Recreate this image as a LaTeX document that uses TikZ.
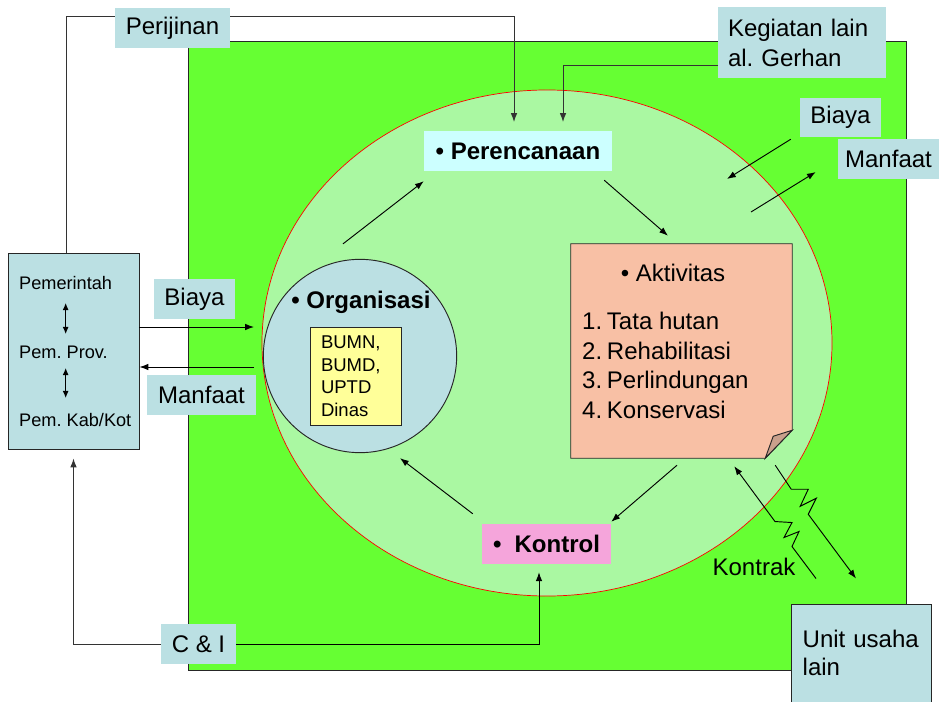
\documentclass[tikz,border=0pt]{standalone}
\usepackage{fontspec}
\setmainfont{Liberation Sans}
\usetikzlibrary{arrows.meta, positioning, calc, backgrounds}
\definecolor{landgreen}{HTML}{66FF33}
\definecolor{fieldgreen}{HTML}{AAF8A2}
\definecolor{tagblue}{HTML}{BBE0E3}
\definecolor{planfill}{HTML}{CCFFFF}
\definecolor{ctrlfill}{HTML}{F5A5DB}
\definecolor{actfill}{HTML}{F8C0A5}
\definecolor{foldfill}{HTML}{C9A08C}
\definecolor{unitfill}{HTML}{FFFF99}
\newcommand{\bigtxt}{\fontsize{20.5}{24.6}\selectfont}
\newcommand{\smalltxt}{\fontsize{15.5}{19.2}\selectfont}
\frenchspacing

\begin{document}
\begin{tikzpicture}[
    x=0.03cm, y=-0.03cm,
    tagbox/.style={fill=tagblue, inner sep=0pt, minimum height=1.2cm, font=\bigtxt},
    stage/.style={inner sep=0pt, minimum height=1.2cm, font=\bigtxt\bfseries},
    frame/.style={draw=black!85, line width=0.8pt},
    arrow/.style={-{Latex[length=7.5pt,width=5.5pt]}, line width=0.8pt},
    twoway/.style={{Latex[length=6pt,width=5pt]}-{Latex[length=6pt,width=5pt]}, line width=0.8pt},
    link/.style={draw=black!80}
]
    \useasboundingbox (0,0) rectangle (939,702);

    % government side
    \node[frame, fill=tagblue, minimum width=3.93cm, minimum height=5.88cm] (gov) at (73.5,351) {};
    \node[font=\smalltxt, anchor=west, inner sep=0pt] (govA) at (19,283) {Pemerintah};
    \node[font=\smalltxt, anchor=west, inner sep=0pt] (govB) at (19,352) {Pem. Prov.};
    \node[font=\smalltxt, anchor=west, inner sep=0pt] (govC) at (19,420) {Pem. Kab/Kot};
    \draw[twoway] (govA) ++(0,20) -- ++(0,31);
    \draw[twoway] (govA |- govB) ++(0,16) -- ++(0,30);

    % labels
    \node[tagbox, minimum width=3.45cm] (permit) at (172.5,28) {Perijinan};
    \node[tagbox, minimum width=5.04cm, minimum height=2.1cm, text width=4.44cm, align=left,
          font=\fontsize{20.5}{25.6}\selectfont] (other) at (802,42.5) {Kegiatan lain\\al. Gerhan};
    \node[tagbox, minimum width=2.43cm] (costL) at (194.5,299) {Biaya};
    \node[tagbox, minimum width=3.27cm] (gainL) at (201.5,395) {Manfaat};
    \node[tagbox, minimum width=2.43cm, minimum height=1.17cm] (costR) at (840.5,117.5) {Biaya};
    \node[tagbox, minimum width=3.03cm] (gainR) at (888.5,159) {Manfaat};
    \node[tagbox, minimum width=2.25cm] (ci) at (198.5,644) {C \& I};
    \node[frame, fill=tagblue, inner sep=0pt, minimum width=4.2cm, minimum height=2.94cm,
          text width=3.5cm, align=left, font=\fontsize{20.5}{23.9}\selectfont] (unit) at (861,653) {Unit usaha\\lain};

    % cycle
    \node[stage, fill=planfill, minimum width=5.64cm] (plan) at (518,151) {• Perencanaan};
    \node[stage, fill=ctrlfill, minimum width=3.87cm] (ctrl) at (546.5,544) {•\hspace{0.55em}Kontrol};

    \node[frame, circle, fill=tagblue, minimum size=5.8cm] (org) at (360,356) {};
    \node[font=\bigtxt\bfseries] (orgT) at (361,302) {• Organisasi};
    \node[frame, fill=unitfill, inner sep=0pt, minimum width=2.73cm, minimum height=2.94cm,
          text width=2.07cm, align=left, font=\fontsize{15.8}{19.2}\selectfont] (bodies) at (355.5,376) {BUMN,\\BUMD,\\UPTD\\Dinas};

    \node[minimum width=6.63cm, minimum height=6.42cm] (akt) at (681.5,351) {};
    \draw[frame, fill=actfill] (akt.north west) -- (akt.north east) -- ([yshift=0.84cm]akt.south east)
        -- ([xshift=-0.81cm]akt.south east) -- (akt.south west) -- cycle;
    \draw[frame, fill=foldfill] ([yshift=0.84cm]akt.south east) -- ([xshift=-0.57cm,yshift=0.66cm]akt.south east)
        -- ([xshift=-0.81cm]akt.south east) -- cycle;
    \node[font=\bigtxt] (aktT) at (673,273) {• Aktivitas};
    \node[font=\fontsize{20.5}{25.2}\selectfont, anchor=west, inner sep=0pt] (aktL) at (582,368)
        {\begin{tabular}{@{}l@{\hspace{4pt}}l@{}}1.&Tata hutan\\2.&Rehabilitasi\\3.&Perlindungan\\4.&Konservasi\end{tabular}};

    \node[font=\bigtxt] (deal) at (754,567) {Kontrak};

    \begin{scope}[on background layer]
        \draw[frame, fill=landgreen] (188,41) rectangle (906,670);
        \draw[red, line width=0.6pt, fill=fieldgreen] (547,343) ellipse [x radius=8.55cm, y radius=7.59cm];
        \coordinate (permitTurn) at (514,16);
        \coordinate (permitEnd) at (514,122);
        \draw[arrow, link] ([xshift=-0.225cm]gov.north) |- (permitTurn) -- (permitEnd);
    \end{scope}

    % connectors
    \coordinate (otherEnd) at (563,122);
    \draw[arrow, link] ([yshift=-0.675cm]other.west) -| (otherEnd);

    \coordinate (costIn) at (254,327);
    \coordinate (gainOut) at (254,367);
    \draw[arrow] (gov.east |- costIn) -- (costIn);
    \draw[arrow] (gainOut) -- (gov.east |- gainOut);

    \draw[arrow] ([xshift=-0.51cm,yshift=0.45cm]org.north) -- ([yshift=-0.3cm]plan.south west);
    \draw[arrow] ([xshift=-0.24cm,yshift=-0.27cm]plan.south east) -- ([xshift=-0.405cm,yshift=0.24cm]akt.north);
    \draw[arrow] ([xshift=-0.135cm,yshift=-0.21cm]akt.south) -- ([yshift=0.06cm]ctrl.north east);
    \draw[arrow] ([xshift=-0.27cm,yshift=0.3cm]ctrl.north west) -- ([xshift=1.2cm,yshift=-0.15cm]org.south);

    \coordinate (costRin) at (727,179);
    \coordinate (gainRout) at (751,212);
    \draw[arrow] ([xshift=-0.27cm,yshift=-0.06cm]costR.south west) -- (costRin);
    \draw[arrow] (gainRout) -- ([xshift=-0.66cm,yshift=-0.39cm]gainR.west);

    \draw[arrow] ([xshift=-1.35cm,yshift=0.75cm]unit.north) -- ++(-24,-32) -- ++(7,-15) -- ++(-15,6)
        -- ++(8,-15) -- ++(-17,-1) -- ([xshift=-1.74cm,yshift=-0.24cm]akt.south east);
    \draw[arrow] ([xshift=-0.51cm,yshift=-0.21cm]akt.south east) -- ++(16,24) -- ++(17,0) -- ++(-8,17)
        -- ++(16,-8) -- ++(-8,16) -- ([xshift=-0.15cm,yshift=0.75cm]unit.north);

    \draw[arrow, link] (ci.west) -| ([yshift=-0.27cm]gov.south);
    \draw[arrow] (ci.east) -| ([xshift=-0.225cm,yshift=-0.24cm]ctrl.south);
\end{tikzpicture}
\end{document}
